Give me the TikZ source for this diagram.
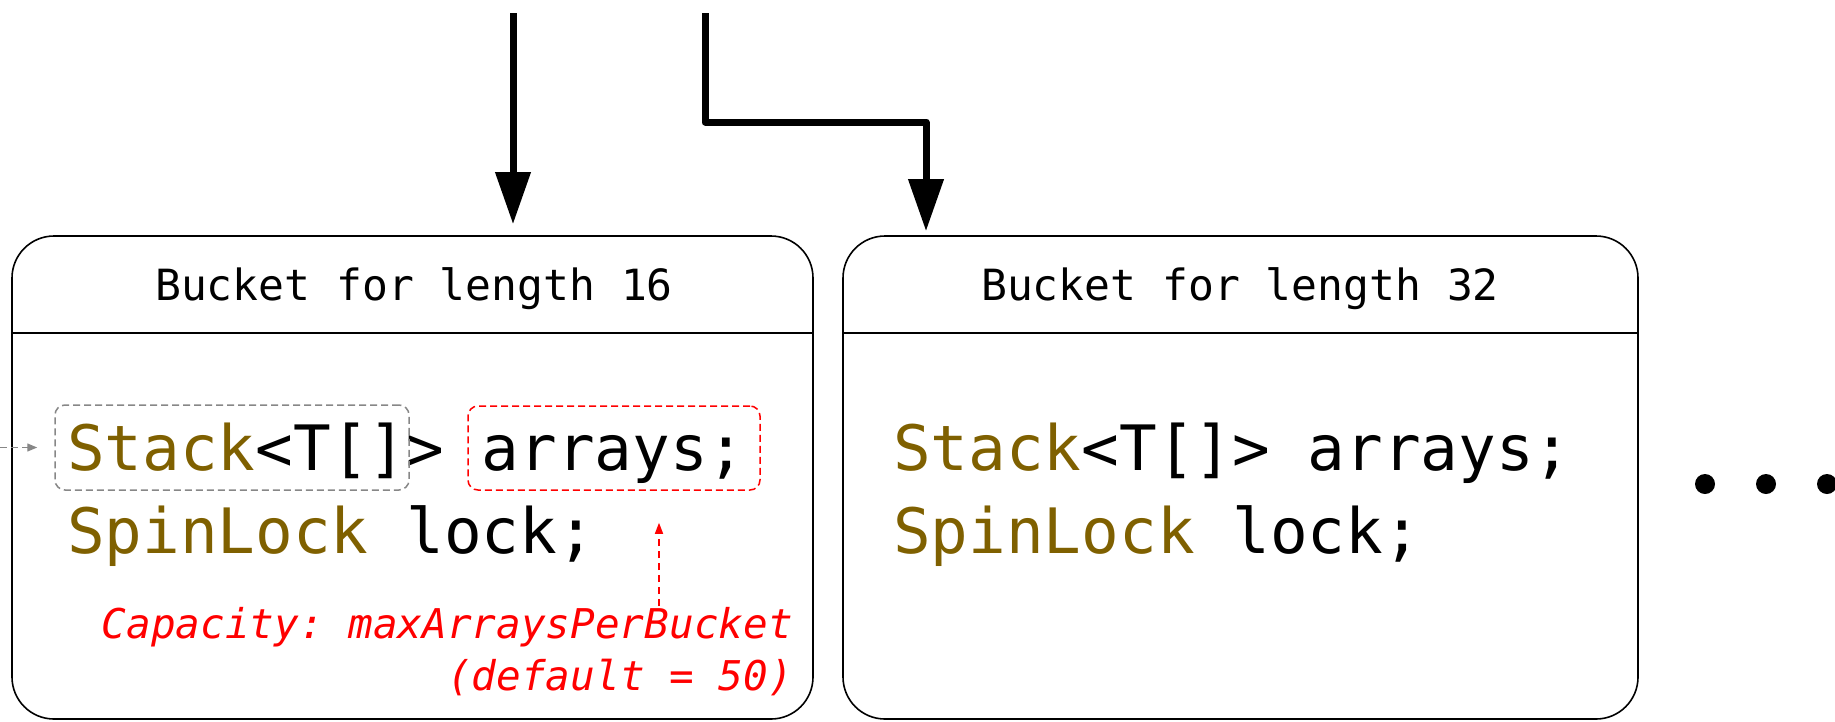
\documentclass[tikz,border=0pt]{standalone}
\usepackage{fontspec}
\setmonofont{DejaVu Sans Mono}
\usetikzlibrary{arrows.meta,calc}
\definecolor{typecol}{RGB}{127,96,0}
\definecolor{notered}{RGB}{255,0,0}
\definecolor{guidegray}{RGB}{135,135,135}

\begin{document}
\begin{tikzpicture}[x=1pt,y=-1pt,
  bucket/.style={draw=black, line width=1.6pt, rounded corners=42pt,
    minimum height=483pt, inner sep=0pt},
  boxline/.style={draw=black, line width=1.6pt},
  title/.style={font=\ttfamily\fontsize{43}{52}\selectfont, inner sep=0pt},
  code/.style={font=\ttfamily\fontsize{62.6}{75}\selectfont, inner sep=0pt},
  note/.style={font=\ttfamily\itshape\fontsize{41}{50}\selectfont, text=notered, inner sep=0pt},
  graybox/.style={draw=guidegray, dash pattern=on 7pt off 4pt, line width=1.5pt,
    rounded corners=10pt, inner sep=0pt},
  redbox/.style={draw=notered, dash pattern=on 7pt off 4pt, line width=1.5pt,
    rounded corners=10pt, inner sep=0pt},
  feed/.style={draw=black, line width=7pt, line join=round,
    -{Triangle[width=34pt,length=52pt]}},
  grayarr/.style={draw=guidegray, line width=1.3pt, dash pattern=on 7pt off 4pt,
    -{Triangle[width=8pt,length=10pt]}},
  redarr/.style={draw=notered, line width=1.5pt, dash pattern=on 7pt off 5pt,
    -{Triangle[width=8pt,length=11pt]}},
  dot/.style={circle, fill=black, minimum size=20pt, inner sep=0pt},
]
\useasboundingbox (0,0) rectangle (1835,721);

% bucket frames
\node[bucket, minimum width=801pt] (b1) at (412.5,477.5) {};
\node[bucket, minimum width=795pt] (b2) at (1240.5,477.5) {};

% header separators
\coordinate (hdr) at (0,333);
\draw[boxline] (b1.west |- hdr) -- (b1.east |- hdr);
\draw[boxline] (b2.west |- hdr) -- (b2.east |- hdr);

% headers
\node[title, anchor=base] (t1) at (414,300) {Bucket for length 16};
\node[title, anchor=base] (t2) at (1240,300) {Bucket for length 32};

% fields of the first bucket
\node[code, anchor=base west] (c1a) at (67,470) {\textcolor{typecol}{Stack}<T[]> arrays;};
\node[code, anchor=base west] (c1b) at (67,553) {\textcolor{typecol}{SpinLock} lock;};

% fields of the second bucket
\node[code, anchor=base west] (c2a) at (893,470) {\textcolor{typecol}{Stack}<T[]> arrays;};
\node[code, anchor=base west] (c2b) at (893,553) {\textcolor{typecol}{SpinLock} lock;};

% highlight frames
\node[graybox, minimum width=354pt, minimum height=85pt] (stk) at (232,447.5) {};
\node[redbox, minimum width=292pt, minimum height=84pt] (arr) at (614,448) {};

% capacity note
\node[note, anchor=base east] (cap1) at (793,638) {Capacity: maxArraysPerBucket};
\node[note, anchor=base east] (cap2) at (793,690) {(default = 50)};

% incoming arrows
\coordinate (in16) at (513,13);
\draw[feed, shorten >=11pt] (in16) -- (in16 |- b1.north);
\coordinate (in32) at (705,13);
\coordinate (bend) at (926,122);
\draw[feed, shorten >=4pt] (in32) |- (bend) -- (bend |- b2.north);

% dashed guides
\coordinate (stackin) at (0,447.5);
\draw[grayarr, shorten >=17pt] (stackin) -- (stk.west);
\coordinate (capbase) at (659,606);
\draw[redarr, shorten >=32pt] (capbase) -- (capbase |- arr.south);

% more buckets
\node[dot] (d1) at (1705,484) {};
\node[dot] (d2) at (1766,484) {};
\node[dot] (d3) at (1827,484) {};
\end{tikzpicture}
\end{document}
